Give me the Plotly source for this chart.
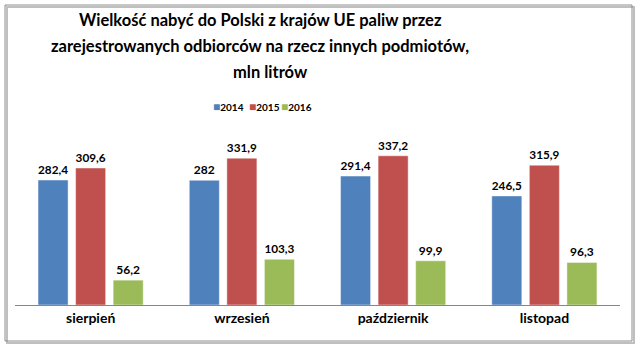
import plotly.graph_objects as go

categories = ["sierpień", "wrzesień", "październik", "listopad"]
series_names = ["2014", "2015", "2016"]
v2014 = [282.4, 282.0, 291.4, 246.5]
v2015 = [309.6, 331.9, 337.2, 315.9]
v2016 = [56.2, 103.3, 99.9, 96.3]
colors = ["#4F81BD", "#C0504D", "#9BBB59"]
title_lines = ["Wielkość nabyć do Polski z krajów UE paliw przez",
               "zarejestrowanych odbiorców na rzecz innych podmiotów,",
               "mln litrów"]

FONT = "Lato"

def fmt(v):
    s = ("%.1f" % v)
    if s.endswith(".0"):
        s = s[:-2]
    return s.replace(".", ",")

fig = go.Figure()
for name, vals, col in zip(series_names, [v2014, v2015, v2016], colors):
    fig.add_trace(go.Bar(
        x=categories, y=vals, name=name,
        marker=dict(color=col, line=dict(color="rgba(255,255,255,0.45)", width=1)),
        text=["<b>" + fmt(v) + "</b>" for v in vals], textposition="outside",
        textfont=dict(family=FONT, size=12, color="#000000"),
        cliponaxis=False, showlegend=False,
    ))

W, H = 640, 351
L, R, T, B = 15, 20, 128, 46
pw, ph = W - L - R, H - T - B

def px_x(p):
    return (p - L) / pw

def px_y(p):
    return (H - B - p) / ph

annotations = []
for line, ty, tx in zip(title_lines, [20, 46, 72], [260, 260, 270]):
    annotations.append(dict(
        text="<b>%s</b>" % line,
        xref="paper", yref="paper", x=px_x(tx), y=px_y(ty), xanchor="center", yanchor="middle",
        showarrow=False, font=dict(family=FONT, size=16.5, color="#000000")))
# manual legend
leg_x = [211, 247, 279]
for name, col, lx in zip(series_names, colors, leg_x):
    annotations.append(dict(
        text="<span style='color:%s;font-size:12px'>■</span><b>%s</b>" % (col, name),
        xref="paper", yref="paper", x=px_x(lx), y=px_y(106), xanchor="left", yanchor="middle",
        showarrow=False, font=dict(family=FONT, size=10, color="#000000")))

fig.update_layout(
    width=W, height=H,
    margin=dict(l=L, r=R, t=T, b=B),
    paper_bgcolor="white", plot_bgcolor="white",
    barmode="group", bargap=0.255, bargroupgap=0.2,
    font=dict(family=FONT, color="#000000"),
    showlegend=False,
    annotations=annotations,
    xaxis=dict(
        showgrid=False, showline=True, linecolor="#868686", linewidth=1,
        ticks="", tickfont=dict(family=FONT, size=14, color="#000000"),
        tickprefix="<b>", ticksuffix="</b>",
    ),
    yaxis=dict(range=[0, 400], visible=False, showgrid=False, zeroline=False),
    shapes=[
        dict(type="rect", xref="paper", yref="paper",
             x0=px_x(7), x1=px_x(634), y0=px_y(343), y1=px_y(7),
             line=dict(color="#BFBFBF", width=2), fillcolor="rgba(0,0,0,0)", layer="above"),
        dict(type="rect", xref="paper", yref="paper",
             x0=px_x(5), x1=px_x(632), y0=px_y(341), y1=px_y(5),
             line=dict(color="#8C8C8C", width=1), fillcolor="rgba(0,0,0,0)", layer="above"),
    ],
)

fig.write_html("out.html")
